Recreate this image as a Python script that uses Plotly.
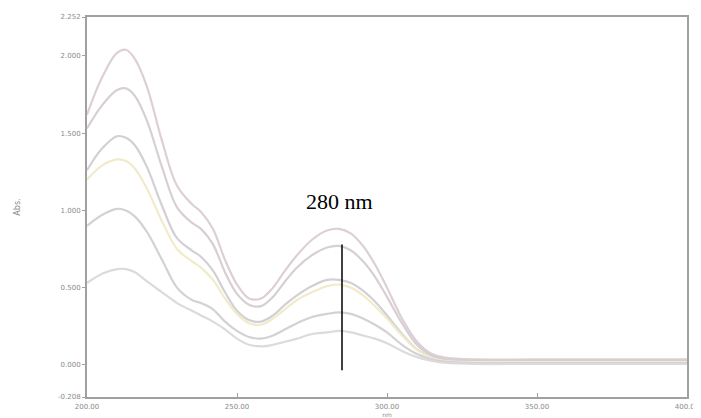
import plotly.graph_objects as go

nm = [200, 205, 210, 213, 216, 220, 225, 230, 235, 238, 242, 246, 250, 254, 258, 262,
      266, 270, 275, 280, 284, 288, 292, 296, 300, 305, 310, 315, 320, 330, 350, 400]

abs1 = [1.62, 1.86, 2.02, 2.04, 1.98, 1.80, 1.45, 1.16, 1.04, 0.99, 0.88, 0.68, 0.52, 0.43, 0.43, 0.50,
        0.61, 0.71, 0.81, 0.87, 0.88, 0.85, 0.77, 0.65, 0.50, 0.30, 0.15, 0.07, 0.045, 0.035, 0.035, 0.035]
abs2 = [1.53, 1.68, 1.78, 1.79, 1.74, 1.58, 1.28, 1.02, 0.92, 0.88, 0.78, 0.60, 0.46, 0.39, 0.38, 0.44,
        0.54, 0.63, 0.71, 0.76, 0.77, 0.74, 0.67, 0.57, 0.44, 0.27, 0.13, 0.06, 0.035, 0.028, 0.028, 0.028]
abs3 = [1.26, 1.40, 1.48, 1.47, 1.42, 1.28, 1.03, 0.82, 0.74, 0.70, 0.61, 0.47, 0.35, 0.29, 0.28, 0.32,
        0.39, 0.45, 0.51, 0.55, 0.55, 0.53, 0.48, 0.41, 0.32, 0.20, 0.10, 0.05, 0.03, 0.022, 0.022, 0.022]
abs4 = [1.20, 1.29, 1.33, 1.32, 1.27, 1.14, 0.93, 0.75, 0.67, 0.63, 0.55, 0.43, 0.33, 0.27, 0.26, 0.30,
        0.36, 0.42, 0.47, 0.51, 0.52, 0.50, 0.45, 0.38, 0.30, 0.19, 0.095, 0.045, 0.025, 0.018, 0.018, 0.018]
abs5 = [0.90, 0.97, 1.01, 1.00, 0.96, 0.86, 0.68, 0.50, 0.42, 0.40, 0.36, 0.28, 0.22, 0.18, 0.17, 0.19,
        0.23, 0.27, 0.31, 0.33, 0.34, 0.33, 0.30, 0.26, 0.21, 0.13, 0.07, 0.035, 0.02, 0.012, 0.012, 0.012]
abs6 = [0.53, 0.59, 0.62, 0.62, 0.60, 0.54, 0.47, 0.40, 0.35, 0.32, 0.28, 0.23, 0.17, 0.13, 0.12, 0.13,
        0.15, 0.17, 0.20, 0.21, 0.22, 0.21, 0.19, 0.17, 0.14, 0.09, 0.05, 0.025, 0.012, 0.006, 0.006, 0.006]

series = [abs1, abs2, abs3, abs4, abs5, abs6]
colors = ["#ddcfd3", "#d6cfd4", "#d2d0d5", "#f1ebca", "#d2d2d6", "#dcdadd"]

x_ticks = [200, 250, 300, 350, 400]
x_labels = ["200.00", "250.00", "300.00", "350.00", "400.00"]
y_ticks = [-0.208, 0.0, 0.5, 1.0, 1.5, 2.0, 2.252]
y_labels = ["-0.208", "0.000", "0.500", "1.000", "1.500", "2.000", "2.252"]

peak_nm = 285
marker_y = [-0.035, 0.78]

fig = go.Figure()
for s, c in zip(series, colors):
    fig.add_trace(go.Scatter(x=nm, y=s, mode="lines", line=dict(color=c, width=2.2, shape="spline"),
                             showlegend=False, hoverinfo="skip"))

fig.add_shape(type="line", xref="x", yref="y", x0=peak_nm, x1=peak_nm, y0=marker_y[0], y1=marker_y[1],
              line=dict(color="black", width=1.5))
fig.add_annotation(x=peak_nm - 1, y=1.06, xref="x", yref="y", text="280 nm", showarrow=False,
                   font=dict(family="Liberation Serif", size=22, color="black"))

fig.update_layout(
    width=693, height=410,
    margin=dict(l=79, r=14, t=9, b=21),
    paper_bgcolor="white", plot_bgcolor="white",
    font=dict(family="DejaVu Sans", color="#8a8a8a", size=7),
)
fig.update_xaxes(range=[200, 400], tickvals=x_ticks, ticktext=x_labels, showgrid=False, zeroline=False,
                 showline=True, linecolor="#a0a0a0", linewidth=2, mirror=True, automargin=False,
                 ticks="inside", ticklen=4, tickcolor="#a0a0a0", ticklabelstandoff=2,
                 tickfont=dict(size=7, color="#8a8a8a"),
                 title=dict(text="nm", font=dict(size=6, color="#8a8a8a"), standoff=2))
fig.update_yaxes(range=[-0.208, 2.252], tickvals=y_ticks, ticktext=y_labels, showgrid=False, zeroline=False,
                 showline=True, linecolor="#a0a0a0", linewidth=2, mirror=True, automargin=False,
                 ticks="outside", ticklen=3, tickcolor="#a0a0a0",
                 tickfont=dict(size=7, color="#8a8a8a"),
                 title=dict(text="Abs.", font=dict(size=8, color="#8a8a8a"), standoff=36))

fig.write_html("out.html")
